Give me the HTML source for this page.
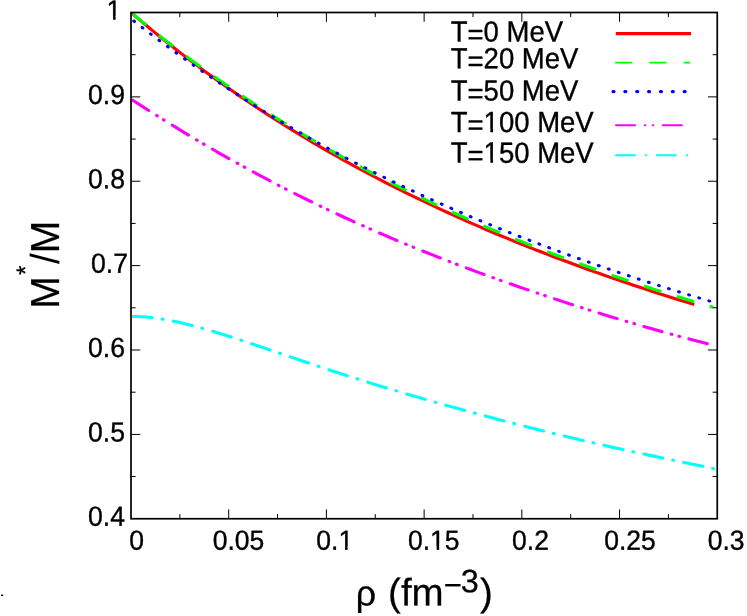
<!DOCTYPE html>
<html><head><meta charset="utf-8"><title>M*/M vs density</title>
<style>html,body{margin:0;padding:0;background:#fff}svg{display:block;will-change:transform}text{text-rendering:geometricPrecision}</style></head>
<body>
<svg width="747" height="616" viewBox="0 0 747 616">
<rect width="747" height="616" fill="#fff" stroke="none"/>
<defs><clipPath id="c"><rect x="131.0" y="12.5" width="586.25" height="506.25"/></clipPath></defs>
<g fill="none" clip-path="url(#c)">
<path d="M131.00,12.50 L135.73,16.55 L140.47,20.55 L145.20,24.52 L149.93,28.45 L154.66,32.33 L159.40,36.18 L164.13,39.99 L168.86,43.77 L173.59,47.50 L178.33,51.20 L183.06,54.86 L187.79,58.49 L192.53,62.08 L197.26,65.63 L201.99,69.15 L206.72,72.64 L211.46,76.09 L216.19,79.51 L220.92,82.89 L225.66,86.24 L230.39,89.56 L235.12,92.85 L239.85,96.10 L244.59,99.32 L249.32,102.51 L254.05,105.67 L258.78,108.80 L263.52,111.90 L268.25,114.97 L272.98,118.01 L277.72,121.03 L282.45,124.01 L287.18,126.96 L291.91,129.89 L296.65,132.79 L301.38,135.66 L306.11,138.50 L310.85,141.32 L315.58,144.11 L320.31,146.88 L325.04,149.62 L329.78,152.33 L334.51,155.02 L339.24,157.68 L343.97,160.32 L348.71,162.94 L353.44,165.53 L358.17,168.10 L362.91,170.64 L367.64,173.16 L372.37,175.66 L377.10,178.14 L381.84,180.59 L386.57,183.02 L391.30,185.43 L396.04,187.82 L400.77,190.19 L405.50,192.53 L410.23,194.86 L414.97,197.17 L419.70,199.45 L424.43,201.72 L429.16,203.96 L433.90,206.19 L438.63,208.40 L443.36,210.58 L448.10,212.75 L452.83,214.90 L457.56,217.04 L462.29,219.15 L467.03,221.25 L471.76,223.33 L476.49,225.39 L481.23,227.44 L485.96,229.46 L490.69,231.48 L495.42,233.47 L500.16,235.45 L504.89,237.41 L509.62,239.36 L514.35,241.29 L519.09,243.20 L523.82,245.10 L528.55,246.99 L533.29,248.86 L538.02,250.71 L542.75,252.55 L547.48,254.38 L552.22,256.19 L556.95,257.98 L561.68,259.77 L566.42,261.54 L571.15,263.29 L575.88,265.03 L580.61,266.76 L585.35,268.48 L590.08,270.18 L594.81,271.87 L599.54,273.54 L604.28,275.21 L609.01,276.86 L613.74,278.49 L618.48,280.12 L623.21,281.73 L627.94,283.34 L632.67,284.92 L637.41,286.50 L642.14,288.07 L646.87,289.62 L651.61,291.16 L656.34,292.69 L661.07,294.21 L665.80,295.72 L670.54,297.22 L675.27,298.70 L680.00,300.18 L684.73,301.64 L689.47,303.09 L694.20,304.53" stroke="#ff0000" stroke-width="3.1"/>
<path d="M131.00,12.50 L135.89,16.57 L140.78,20.61 L145.68,24.61 L150.57,28.56 L155.46,32.48 L160.35,36.35 L165.25,40.18 L170.14,43.98 L175.03,47.75 L179.92,51.47 L184.82,55.15 L189.71,58.79 L194.60,62.40 L199.49,65.97 L204.39,69.51 L209.28,73.01 L214.17,76.47 L219.06,79.90 L223.96,83.32 L228.85,86.72 L233.74,90.09 L238.63,93.43 L243.53,96.73 L248.42,99.99 L253.31,103.23 L258.20,106.43 L263.10,109.60 L267.99,112.74 L272.88,115.85 L277.77,118.92 L282.67,121.98 L287.56,125.00 L292.45,128.00 L297.34,130.97 L302.24,133.91 L307.13,136.82 L312.02,139.70 L316.91,142.56 L321.81,145.38 L326.70,148.18 L331.59,150.95 L336.48,153.70 L341.37,156.42 L346.27,159.13 L351.16,161.81 L356.05,164.47 L360.94,167.10 L365.84,169.71 L370.73,172.29 L375.62,174.85 L380.51,177.39 L385.41,179.90 L390.30,182.39 L395.19,184.85 L400.08,187.30 L404.98,189.72 L409.87,192.13 L414.76,194.51 L419.65,196.87 L424.55,199.21 L429.44,201.53 L434.33,203.83 L439.22,206.10 L444.12,208.36 L449.01,210.60 L453.90,212.82 L458.79,215.02 L463.69,217.19 L468.58,219.35 L473.47,221.50 L478.36,223.62 L483.26,225.72 L488.15,227.81 L493.04,229.88 L497.93,231.93 L502.83,233.97 L507.72,235.98 L512.61,237.98 L517.50,239.97 L522.39,241.93 L527.29,243.88 L532.18,245.82 L537.07,247.74 L541.96,249.64 L546.86,251.52 L551.75,253.40 L556.64,255.25 L561.53,257.09 L566.43,258.92 L571.32,260.73 L576.21,262.53 L581.10,264.31 L586.00,266.08 L590.89,267.83 L595.78,269.57 L600.67,271.30 L605.57,273.01 L610.46,274.71 L615.35,276.40 L620.24,278.07 L625.14,279.73 L630.03,281.37 L634.92,282.99 L639.81,284.61 L644.71,286.21 L649.60,287.80 L654.49,289.37 L659.38,290.94 L664.28,292.49 L669.17,294.03 L674.06,295.56 L678.95,297.07 L683.85,298.58 L688.74,300.07 L693.63,301.54 L698.52,303.00 L703.42,304.45 L708.31,305.89 L713.20,307.31" stroke="#00ff00" stroke-width="3.1" stroke-dasharray="18.0 16.31" stroke-dashoffset="-1.8"/>
<path d="M131.00,18.84 L135.87,22.64 L140.73,26.40 L145.60,30.13 L150.46,33.83 L155.33,37.50 L160.19,41.13 L165.06,44.73 L169.92,48.30 L174.79,51.84 L179.66,55.35 L184.52,58.83 L189.39,62.28 L194.25,65.69 L199.12,69.08 L203.98,72.43 L208.85,75.76 L213.71,79.05 L218.58,82.32 L223.45,85.55 L228.31,88.76 L233.18,91.94 L238.04,95.08 L242.91,98.20 L247.77,101.29 L252.64,104.36 L257.50,107.39 L262.37,110.40 L267.24,113.38 L272.10,116.33 L276.97,119.25 L281.83,122.15 L286.70,125.02 L291.56,127.87 L296.43,130.69 L301.29,133.48 L306.16,136.25 L311.03,138.99 L315.89,141.71 L320.76,144.40 L325.62,147.07 L330.49,149.71 L335.35,152.33 L340.22,154.93 L345.08,157.50 L349.95,160.05 L354.82,162.58 L359.68,165.08 L364.55,167.56 L369.41,170.02 L374.28,172.46 L379.14,174.88 L384.01,177.27 L388.87,179.65 L393.74,182.00 L398.61,184.33 L403.47,186.65 L408.34,188.94 L413.20,191.21 L418.07,193.47 L422.93,195.70 L427.80,197.92 L432.66,200.11 L437.53,202.29 L442.39,204.45 L447.26,206.60 L452.13,208.72 L456.99,210.83 L461.86,212.92 L466.72,215.00 L471.59,217.06 L476.45,219.10 L481.32,221.12 L486.18,223.13 L491.05,225.12 L495.92,227.10 L500.78,229.07 L505.65,231.01 L510.51,232.95 L515.38,234.86 L520.24,236.77 L525.11,238.66 L529.97,240.53 L534.84,242.39 L539.71,244.24 L544.57,246.08 L549.44,247.90 L554.30,249.70 L559.17,251.50 L564.03,253.28 L568.90,255.05 L573.76,256.80 L578.63,258.55 L583.50,260.28 L588.36,262.00 L593.23,263.70 L598.09,265.40 L602.96,267.08 L607.82,268.75 L612.69,270.41 L617.55,272.06 L622.42,273.69 L627.29,275.32 L632.15,276.93 L637.02,278.53 L641.88,280.12 L646.75,281.69 L651.61,283.26 L656.48,284.81 L661.34,286.36 L666.21,287.89 L671.08,289.41 L675.94,290.92 L680.81,292.41 L685.67,293.90 L690.54,295.37 L695.40,296.83 L700.27,298.28 L705.13,299.72 L710.00,301.14" stroke="#0000ff" stroke-width="3.0" stroke-linecap="round" stroke-dasharray="0.9 9.65" stroke-dashoffset="-3.51"/>
<path d="M131.00,99.10 L135.85,102.24 L140.71,105.36 L145.56,108.46 L150.42,111.55 L155.27,114.61 L160.12,117.65 L164.98,120.68 L169.83,123.68 L174.68,126.66 L179.54,129.62 L184.39,132.57 L189.25,135.48 L194.10,138.38 L198.95,141.26 L203.81,144.11 L208.66,146.95 L213.51,149.76 L218.37,152.55 L223.22,155.31 L228.08,158.06 L232.93,160.78 L237.78,163.48 L242.64,166.16 L247.49,168.82 L252.34,171.45 L257.20,174.07 L262.05,176.66 L266.91,179.23 L271.76,181.78 L276.61,184.30 L281.47,186.81 L286.32,189.29 L291.17,191.75 L296.03,194.19 L300.88,196.61 L305.74,199.01 L310.59,201.39 L315.44,203.75 L320.30,206.09 L325.15,208.40 L330.01,210.70 L334.86,212.98 L339.71,215.23 L344.57,217.47 L349.42,219.69 L354.27,221.89 L359.13,224.07 L363.98,226.23 L368.84,228.38 L373.69,230.50 L378.54,232.61 L383.40,234.70 L388.25,236.77 L393.10,238.83 L397.96,240.86 L402.81,242.89 L407.67,244.89 L412.52,246.88 L417.37,248.85 L422.23,250.81 L427.08,252.75 L431.93,254.67 L436.79,256.58 L441.64,258.48 L446.50,260.36 L451.35,262.23 L456.20,264.08 L461.06,265.92 L465.91,267.74 L470.76,269.55 L475.62,271.35 L480.47,273.13 L485.33,274.90 L490.18,276.66 L495.03,278.41 L499.89,280.14 L504.74,281.86 L509.59,283.57 L514.45,285.27 L519.30,286.96 L524.16,288.63 L529.01,290.29 L533.86,291.95 L538.72,293.59 L543.57,295.22 L548.43,296.83 L553.28,298.44 L558.13,300.04 L562.99,301.62 L567.84,303.20 L572.69,304.76 L577.55,306.32 L582.40,307.86 L587.26,309.40 L592.11,310.92 L596.96,312.43 L601.82,313.93 L606.67,315.42 L611.52,316.90 L616.38,318.37 L621.23,319.83 L626.09,321.28 L630.94,322.72 L635.79,324.14 L640.65,325.55 L645.50,326.96 L650.35,328.35 L655.21,329.73 L660.06,331.09 L664.92,332.45 L669.77,333.79 L674.62,335.12 L679.48,336.43 L684.33,337.73 L689.18,339.02 L694.04,340.29 L698.89,341.55 L703.75,342.79 L708.60,344.02" stroke="#ff00ff" stroke-width="3.1" stroke-linecap="round" stroke-dasharray="19.0 9.29 0.8 7.22 0.8 9.65" stroke-dashoffset="-2.1"/>
<path d="M131.00,316.40 L135.90,316.47 L140.79,316.69 L145.69,317.05 L150.58,317.53 L155.48,318.12 L160.37,318.83 L165.27,319.64 L170.17,320.54 L175.06,321.52 L179.96,322.59 L184.85,323.72 L189.75,324.93 L194.65,326.19 L199.54,327.51 L204.44,328.87 L209.33,330.29 L214.23,331.74 L219.12,333.23 L224.02,334.75 L228.92,336.29 L233.81,337.87 L238.71,339.46 L243.60,341.07 L248.50,342.69 L253.39,344.33 L258.29,345.98 L263.19,347.63 L268.08,349.29 L272.98,350.96 L277.87,352.62 L282.77,354.29 L287.67,355.95 L292.56,357.61 L297.46,359.27 L302.35,360.92 L307.25,362.57 L312.14,364.20 L317.04,365.84 L321.94,367.46 L326.83,369.07 L331.73,370.68 L336.62,372.27 L341.52,373.86 L346.42,375.43 L351.31,376.99 L356.21,378.55 L361.10,380.09 L366.00,381.62 L370.89,383.14 L375.79,384.65 L380.69,386.15 L385.58,387.64 L390.48,389.12 L395.37,390.59 L400.27,392.05 L405.16,393.50 L410.06,394.94 L414.96,396.37 L419.85,397.79 L424.75,399.20 L429.64,400.60 L434.54,402.00 L439.44,403.38 L444.33,404.76 L449.23,406.12 L454.12,407.48 L459.02,408.84 L463.91,410.18 L468.81,411.52 L473.71,412.85 L478.60,414.17 L483.50,415.48 L488.39,416.79 L493.29,418.09 L498.18,419.38 L503.08,420.66 L507.98,421.94 L512.87,423.21 L517.77,424.47 L522.66,425.72 L527.56,426.97 L532.46,428.21 L537.35,429.44 L542.25,430.66 L547.14,431.88 L552.04,433.08 L556.93,434.28 L561.83,435.47 L566.73,436.65 L571.62,437.82 L576.52,438.98 L581.41,440.14 L586.31,441.28 L591.21,442.42 L596.10,443.54 L601.00,444.66 L605.89,445.77 L610.79,446.87 L615.68,447.96 L620.58,449.04 L625.48,450.11 L630.37,451.18 L635.27,452.23 L640.16,453.28 L645.06,454.32 L649.95,455.36 L654.85,456.39 L659.75,457.41 L664.64,458.43 L669.54,459.45 L674.43,460.46 L679.33,461.47 L684.23,462.49 L689.12,463.50 L694.02,464.52 L698.91,465.54 L703.81,466.57 L708.70,467.60 L713.60,468.65" stroke="#00ffff" stroke-width="3.1" stroke-linecap="round" stroke-dasharray="19.4 10.08 1.0 10.3" stroke-dashoffset="-1.8"/>
</g>
<path d="M179.85,518.75v-4.6M179.85,12.5v4.6M228.71,518.75v-9.3M228.71,12.5v9.3M277.56,518.75v-4.6M277.56,12.5v4.6M326.42,518.75v-9.3M326.42,12.5v9.3M375.27,518.75v-4.6M375.27,12.5v4.6M424.13,518.75v-9.3M424.13,12.5v9.3M472.98,518.75v-4.6M472.98,12.5v4.6M521.83,518.75v-9.3M521.83,12.5v9.3M570.69,518.75v-4.6M570.69,12.5v4.6M619.54,518.75v-9.3M619.54,12.5v9.3M668.40,518.75v-4.6M668.40,12.5v4.6M131.0,476.56h4.6M717.25,476.56h-4.6M131.0,434.38h9.3M717.25,434.38h-9.3M131.0,392.19h4.6M717.25,392.19h-4.6M131.0,350.00h9.3M717.25,350.00h-9.3M131.0,307.81h4.6M717.25,307.81h-4.6M131.0,265.62h9.3M717.25,265.62h-9.3M131.0,223.44h4.6M717.25,223.44h-4.6M131.0,181.25h9.3M717.25,181.25h-9.3M131.0,139.06h4.6M717.25,139.06h-4.6M131.0,96.88h9.3M717.25,96.88h-9.3M131.0,54.69h4.6M717.25,54.69h-4.6" stroke="#000" stroke-width="1" fill="none"/>
<rect x="131.0" y="12.5" width="586.25" height="506.25" fill="none" stroke="#000" stroke-width="1.7"/>
<g fill="none">
<path d="M615.8,33.55H691" stroke="#ff0000" stroke-width="3.2"/>
<path d="M615.2,62.7H690.2" stroke="#00ff00" stroke-width="1.7" stroke-dasharray="17.1 17.1"/>
<path d="M613.05,91.55H686" stroke="#0000ff" stroke-width="3.3" stroke-linecap="round" stroke-dasharray="0.9 10.96"/>
<path d="M616,125.15H691" stroke="#ff00ff" stroke-width="2" stroke-linecap="round" stroke-dasharray="19.1 9.8 0.6 7.2 0.6 9.6"/>
<path d="M616,155.25H689" stroke="#00ffff" stroke-width="2" stroke-linecap="round" stroke-dasharray="19 10.8 0.4 10.7"/>
</g>
<g font-family="'Liberation Sans', sans-serif" fill="#000" stroke="#000" stroke-width="0.35" stroke-linejoin="round">
<g transform="translate(129.36,549.75) rotate(0.03) scale(1.008,1.055)"><text font-size="26.3">0</text></g>
<g transform="translate(212.76,549.75) rotate(0.03) scale(1.008,1.055)"><text font-size="26.3">0.05</text></g>
<g transform="translate(316.36,549.75) rotate(0.03) scale(1.008,1.055)"><text font-size="26.3">0.1</text><rect x="22.45" y="-3.02" width="5.97" height="4.11" fill="#fff" stroke="none"/><rect x="31.00" y="-3.02" width="5.70" height="4.11" fill="#fff" stroke="none"/></g>
<g transform="translate(407.96,549.75) rotate(0.03) scale(1.008,1.055)"><text font-size="26.3">0.15</text><rect x="22.45" y="-3.02" width="5.97" height="4.11" fill="#fff" stroke="none"/><rect x="31.00" y="-3.02" width="5.70" height="4.11" fill="#fff" stroke="none"/></g>
<g transform="translate(512.06,549.75) rotate(0.03) scale(1.008,1.055)"><text font-size="26.3">0.2</text></g>
<g transform="translate(604.16,549.75) rotate(0.03) scale(1.008,1.055)"><text font-size="26.3">0.25</text></g>
<g transform="translate(707.66,549.75) rotate(0.03) scale(1.008,1.055)"><text font-size="26.3">0.3</text></g>
<g transform="translate(87.96,103.95) rotate(0.03) scale(1.012,1.055)"><text font-size="26.3">0.9</text></g>
<g transform="translate(87.96,188.35) rotate(0.03) scale(1.012,1.055)"><text font-size="26.3">0.8</text></g>
<g transform="translate(91.01,272.70) rotate(0.03) scale(1.012,1.055)"><text font-size="26.3">0.7</text></g>
<g transform="translate(87.96,357.05) rotate(0.03) scale(1.012,1.055)"><text font-size="26.3">0.6</text></g>
<g transform="translate(87.96,441.45) rotate(0.03) scale(1.012,1.055)"><text font-size="26.3">0.5</text></g>
<g transform="translate(87.96,525.75) rotate(0.03) scale(1.012,1.055)"><text font-size="26.3">0.4</text></g>
<g transform="translate(106.56,19.40) rotate(0.03) scale(1.0,1.055)"><text font-size="26.3">1</text><rect x="0.51" y="-3.02" width="5.97" height="4.11" fill="#fff" stroke="none"/><rect x="9.07" y="-3.02" width="5.70" height="4.11" fill="#fff" stroke="none"/></g>
<g transform="translate(450.73,41.50) rotate(0.03) scale(1.0,1.06)"><text font-size="27.5">T<tspan dy="2.6">=</tspan><tspan dy="-2.6">0 MeV</tspan></text></g>
<g transform="translate(450.73,68.30) rotate(0.03) scale(1.0,1.06)"><text font-size="27.5">T<tspan dy="2.6">=</tspan><tspan dy="-2.6">20 MeV</tspan></text></g>
<g transform="translate(450.73,100.50) rotate(0.03) scale(1.0,1.06)"><text font-size="27.5">T<tspan dy="2.6">=</tspan><tspan dy="-2.6">50 MeV</tspan></text></g>
<g transform="translate(450.73,132.00) rotate(0.03) scale(1.0,1.06)"><text font-size="27.5">T<tspan dy="2.6">=</tspan><tspan dy="-2.6">100 MeV</tspan></text><rect x="33.39" y="-3.16" width="6.24" height="4.30" fill="#fff" stroke="none"/><rect x="42.34" y="-3.16" width="5.96" height="4.30" fill="#fff" stroke="none"/></g>
<g transform="translate(450.73,162.60) rotate(0.03) scale(1.0,1.06)"><text font-size="27.5">T<tspan dy="2.6">=</tspan><tspan dy="-2.6">150 MeV</tspan></text><rect x="33.39" y="-3.16" width="6.24" height="4.30" fill="#fff" stroke="none"/><rect x="42.34" y="-3.16" width="5.96" height="4.30" fill="#fff" stroke="none"/></g>
<g transform="translate(355.7,605.4) rotate(0.03)" stroke-width="0.25"><text font-size="38.5"><tspan font-size="35.8">ρ</tspan><tspan dx="1.3"> (fm</tspan><tspan font-size="31" dy="-10.0">−</tspan><tspan font-size="32.5" dy="-3.1" dx="-1.0">3</tspan><tspan dy="13.1" dx="1.27">)</tspan></text></g>
<g transform="translate(58.7,308.7) rotate(-90) scale(1,1.04)" stroke-width="0.25"><text font-size="39">M<tspan font-size="24.3" dy="-23.5" dx="1.2">*</tspan><tspan dy="23.5" dx="1.5" stroke="none">/</tspan>M</text></g>
</g>
<rect x="1" y="594.6" width="2.1" height="1.4" fill="#000"/>
</svg>
</body></html>
